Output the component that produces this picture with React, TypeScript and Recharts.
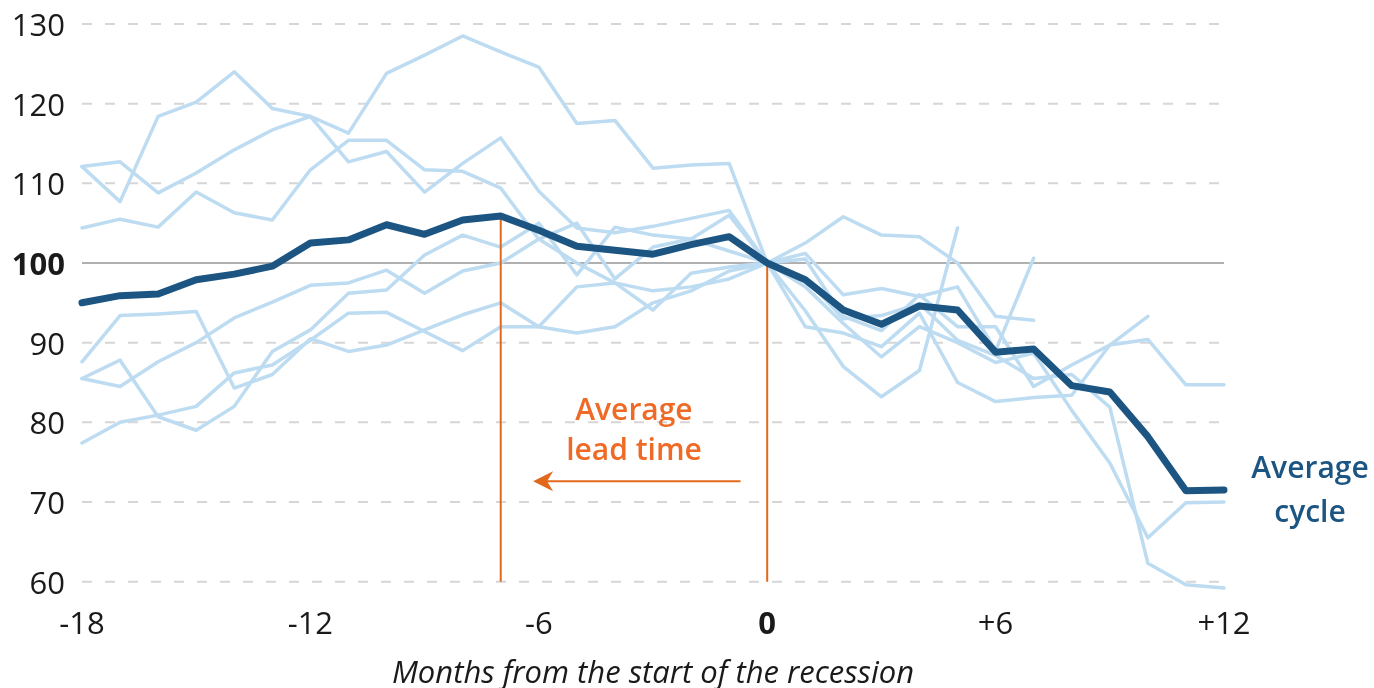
import {
    LineChart,
    Line,
    XAxis,
    YAxis,
    ReferenceLine,
    ReferenceDot,
    Label,
} from "recharts";

// months relative to the start of the recession
const months = [-18, -17, -16, -15, -14, -13, -12, -11, -10, -9, -8, -7, -6, -5, -4, -3, -2, -1, 0, 1, 2, 3, 4, 5, 6, 7, 8, 9, 10, 11, 12];

const avgCycle = [95.0, 95.9, 96.1, 97.9, 98.6, 99.6, 102.5, 102.9, 104.8, 103.6, 105.4, 105.9, 104.1, 102.1, 101.6, 101.1, 102.3, 103.3, 100, 97.9, 94.1, 92.3, 94.6, 94.1, 88.8, 89.2, 84.6, 83.8, 78.2, 71.4, 71.5];

// individual cycles
const cycleA = [112.1, 107.7, 118.4, 120.2, 124.0, 119.4, 118.4, 116.3, 123.8, 126.1, 128.5, 126.5, 124.6, 117.5, 117.9, 111.9, 112.3, 112.5, 100, 92, 91.2, 89.5, 93.7, 85, 82.6, 83.1, 83.4, 89.7, 93.3, null, null];
const cycleB = [112.1, 112.7, 108.8, 111.3, 114.2, 116.7, 118.4, 112.7, 114.0, 108.9, 112.5, 115.7, 109.0, 104.4, 103.8, 104.6, 105.6, 106.6, 100, 102.5, 105.8, 103.5, 103.3, 100, 93.3, 92.8, null, null, null, null, null];
const cycleC = [104.4, 105.5, 104.5, 108.9, 106.3, 105.4, 111.7, 115.4, 115.4, 111.7, 111.5, 109.4, 103, 100, 97.5, 94.1, 98.7, 99.5, 100, 98.1, 93, 93.4, 94.9, 90.3, 88.4, 85.5, 86, 81.9, 62.3, 59.6, 59.2];
const cycleD = [87.6, 93.4, 93.6, 93.9, 84.3, 86.0, 90.5, 88.9, 89.7, 91.6, 93.5, 95.0, 92.0, 91.2, 92.0, 95.0, 96.5, 99.0, 100, 94, 87, 83.2, 86.5, 104.4, null, null, null, null, null, null, null];
const cycleE = [85.5, 87.8, 80.7, 79.0, 82.0, 88.9, 91.6, 96.2, 96.6, 101, 103.5, 102.0, 105.0, 98.5, 104.5, 103.5, 103.0, 106.0, 100, 101.2, 96, 96.8, 95.8, 97, 89, 100.6, null, null, null, null, null];
const cycleF = [85.5, 84.5, 87.6, 90.0, 93.1, 95.1, 97.2, 97.5, 99.1, 96.2, 99.0, 100.0, 103.0, 105.0, 98.0, 102.0, 103.0, 101.5, 100, 100.5, 93.3, 91.5, 96, 92, 92, 84.5, 87.2, 89.7, 90.4, 84.7, 84.7];
const cycleG = [77.4, 80.0, 80.9, 82.0, 86.2, 87.2, 90.3, 93.7, 93.8, 91.4, 89.0, 92.0, 92.0, 97.0, 97.5, 96.5, 97.0, 98.0, 100, 97, 92.4, 88.2, 92, 90, 87.5, 88.7, 81.5, 74.9, 65.5, 69.9, 70];

const xTicks = [-18, -12, -6, 0, 6, 12];
const yTicks = [60, 70, 80, 90, 100, 110, 120, 130];
const gridValues = [60, 70, 80, 90, 110, 120, 130];

const leadStart = -7; // peak of the average cycle
const leadPeak = 105.9;
const arrowY = 72.6;

const cycles = [cycleA, cycleB, cycleC, cycleD, cycleE, cycleF, cycleG];

const rows = months.map((m, i) => {
    const row: Record<string, number | null> = { m, avg: avgCycle[i] };
    cycles.forEach((c, j) => {
        row["c" + j] = c[i];
    });
    return row;
});

const FONT = "'Open Sans', 'Noto Sans', sans-serif";
const ORANGE = "#e2691c";
const ORANGE_TEXT = "#ef6a26";
const DARK = "#1c5582";
const LIGHT = "#bddcf1";

const YTick = ({ x, y, payload }: any) => (
    <text
        x={x}
        y={y}
        textAnchor="end"
        dominantBaseline="central"
        fontSize={31}
        fontFamily={FONT}
        fontWeight={payload.value === 100 ? 700 : 400}
        fill="#1a1a1a"
    >
        {payload.value}
    </text>
);

const XTick = ({ x, y, payload }: any) => (
    <text
        x={x}
        y={y + 34}
        textAnchor="middle"
        dominantBaseline="central"
        fontSize={31}
        fontFamily={FONT}
        fontWeight={payload.value === 0 ? 700 : 400}
        fill="#1a1a1a"
    >
        {payload.value > 0 ? `+${payload.value}` : payload.value}
    </text>
);

const ArrowHead = ({ cx, cy }: any) => (
    <polygon
        points={`${cx},${cy} ${cx + 20},${cy - 10} ${cx + 14},${cy} ${cx + 20},${cy + 10}`}
        fill={ORANGE}
    />
);

const LeadText = ({ cx, cy }: any) => (
    <text textAnchor="middle" fontSize={30} fontWeight={600} fontFamily={FONT} fill={ORANGE_TEXT}>
        <tspan x={cx} y={cy - 2}>Average</tspan>
        <tspan x={cx} y={cy + 38}>lead time</tspan>
    </text>
);

const CycleText = ({ cx, cy }: any) => (
    <text textAnchor="middle" fontSize={30} fontWeight={600} fontFamily={FONT} fill={DARK}>
        <tspan x={cx + 86} y={cy - 12}>Average</tspan>
        <tspan x={cx + 86} y={cy + 32}>cycle</tspan>
    </text>
);

export default function App() {
    return (
        <div style={{ position: "fixed", left: 0, top: 0, width: 1374, height: 694 }}>
            <LineChart
                width={1374}
                height={694}
                data={rows}
                margin={{ top: 24, right: 150, bottom: 0, left: 0 }}
                style={{ fontFamily: FONT }}
            >
                <XAxis
                    type="number"
                    dataKey="m"
                    domain={[-18, 12]}
                    ticks={xTicks}
                    axisLine={false}
                    tickLine={false}
                    tickSize={0}
                    tickMargin={0}
                    height={106}
                    tick={<XTick />}
                    interval={0}
                >
                    <Label
                        value="Months from the start of the recession"
                        position="insideBottom"
                        offset={11}
                        fontSize={31}
                        fontStyle="italic"
                        fontFamily={FONT}
                        fill="#1a1a1a"
                    />
                </XAxis>
                <YAxis
                    type="number"
                    domain={[60, 130]}
                    ticks={yTicks}
                    axisLine={false}
                    tickLine={false}
                    tickSize={0}
                    tickMargin={17}
                    width={82}
                    tick={<YTick />}
                    interval={0}
                />
                {gridValues.map((v) => (
                    <ReferenceLine key={v} y={v} stroke="#d6d6d6" strokeWidth={2} strokeDasharray="10 13" />
                ))}
                <ReferenceLine y={100} stroke="#b0b0b0" strokeWidth={2} />
                {cycles.map((_, j) => (
                    <Line
                        key={j}
                        dataKey={"c" + j}
                        stroke={LIGHT}
                        strokeWidth={3.5}
                        dot={false}
                        activeDot={false}
                        strokeLinejoin="round"
                        strokeLinecap="round"
                        isAnimationActive={false}
                    />
                ))}
                <ReferenceLine
                    segment={[{ x: leadStart, y: 60 }, { x: leadStart, y: leadPeak }]}
                    stroke={ORANGE}
                    strokeWidth={2}
                />
                <ReferenceLine
                    segment={[{ x: 0, y: 60 }, { x: 0, y: 100 }]}
                    stroke={ORANGE}
                    strokeWidth={2}
                />
                <ReferenceLine
                    segment={[{ x: -0.7, y: arrowY }, { x: -5.9, y: arrowY }]}
                    stroke={ORANGE}
                    strokeWidth={2}
                />
                <ReferenceDot x={-6.15} y={arrowY} r={0} shape={<ArrowHead />} />
                <ReferenceDot x={-3.5} y={80} r={0} shape={<LeadText />} />
                <Line
                    dataKey="avg"
                    stroke={DARK}
                    strokeWidth={7}
                    dot={false}
                    activeDot={false}
                    strokeLinejoin="round"
                    strokeLinecap="round"
                    isAnimationActive={false}
                />
                <ReferenceDot x={12} y={71.5} r={0} shape={<CycleText />} />
            </LineChart>
        </div>
    );
}
